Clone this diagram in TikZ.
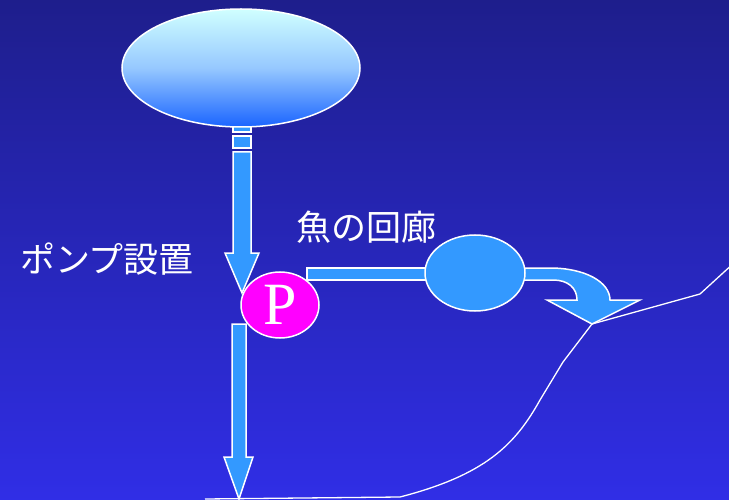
\documentclass[tikz,border=0pt]{standalone}
\usepackage{fontspec}
\newfontfamily\jpfont{Noto Sans CJK JP}
\newfontfamily\pfont{Liberation Serif}
\usetikzlibrary{shapes.geometric}
\definecolor{bgtop}{RGB}{30,30,140}
\definecolor{bgbot}{RGB}{48,46,230}
\definecolor{flow}{RGB}{51,153,255}
\definecolor{skytop}{RGB}{208,255,255}
\definecolor{skymid}{RGB}{150,200,255}
\definecolor{skybot}{RGB}{26,100,255}
\definecolor{pumpmag}{RGB}{255,0,255}
\begin{document}
\begin{tikzpicture}[x=1pt,y=-1pt,
  blockarrow/.style={fill=flow,draw=white,line width=1.5pt,line join=miter},
  terrain/.style={draw=white,line width=1.3pt},
  jplabel/.style={text=white,font=\jpfont\fontsize{35}{40}\selectfont,inner sep=0pt,text height=30.8pt,text depth=4.2pt},
  basin/.style={ellipse,draw=white,line width=1.5pt,inner sep=0pt}]
\useasboundingbox (0,0) rectangle (729,500);
\fill[top color=bgtop,bottom color=bgbot] (0,0) rectangle (729,500);
% terrain
\draw[terrain] (205,499) -- (400,497) .. controls (485,475) and (515,445) .. (540,400) -- (563,362) -- (592,324) -- (700,294) -- (735,262);
% flow shapes
\draw[blockarrow] (233,118) rectangle (251,132);
\draw[blockarrow] (233,136) rectangle (251,148);
\draw[blockarrow] (233,152) -- (251,152) -- (251,253) -- (259,253) -- (242,293) -- (225,253) -- (233,253) -- cycle;
\draw[blockarrow] (232,324) -- (246,324) -- (246,457) -- (253,457) -- (239,499) -- (224,457) -- (232,457) -- cycle;
\draw[blockarrow] (307,268) rectangle (440,280);
\draw[blockarrow] (510,268) -- (550,268) .. controls (585,268) and (610,282) .. (610,300) -- (640,300) -- (592,324) -- (547,300) -- (577,300) .. controls (577,288) and (568,280) .. (553,280) -- (510,280) -- cycle;
% nodes
\node[basin,minimum width=238pt,minimum height=118pt,top color=skytop,bottom color=skybot,middle color=skymid] (src) at (241,68) {};
\node[basin,minimum width=78pt,minimum height=66pt,fill=pumpmag,text=white] (pump) at (280,305) {\pfont\fontsize{60}{60}\selectfont P};
\node[basin,minimum width=100pt,minimum height=76pt,fill=flow] (pond) at (475,273) {};
\node[jplabel] (pumplbl) at (107,259) {ポンプ設置};
\node[jplabel] (corridor) at (366,227) {魚の回廊};
\end{tikzpicture}
\end{document}
